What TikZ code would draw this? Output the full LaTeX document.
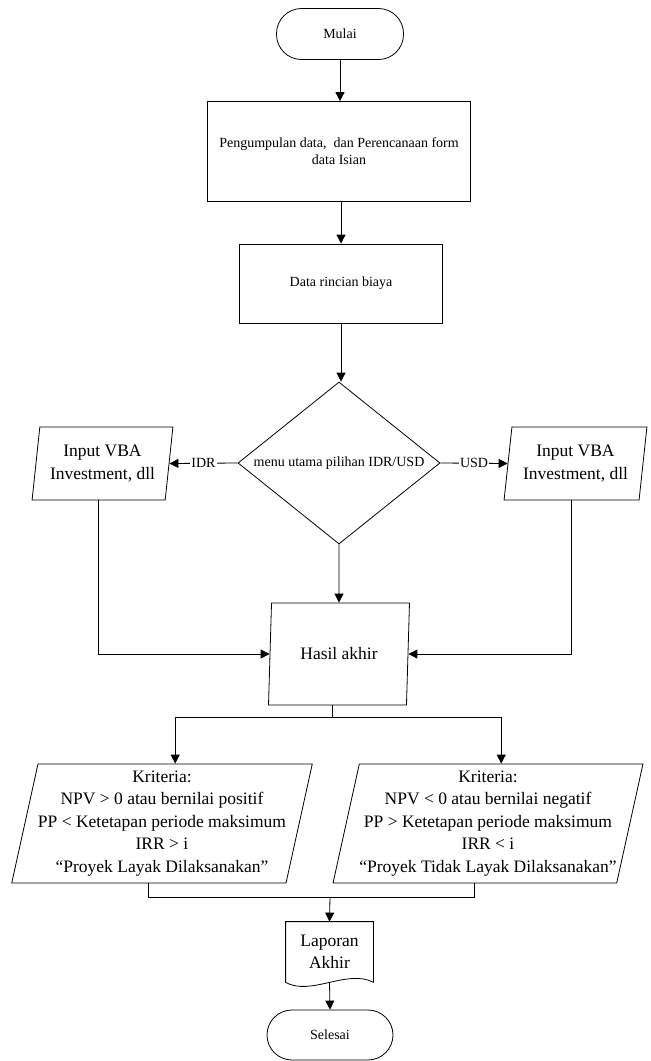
\documentclass[tikz,border=0pt]{standalone}
\usepackage{fontspec}
\setmainfont{Liberation Serif}
\usetikzlibrary{shapes.geometric,arrows.meta,calc}
\tikzset{
  kecil/.style={font=\fontsize{14}{17}\selectfont},
  besar/.style={font=\fontsize{17.5}{22.5}\selectfont},
  terminal/.style={draw,rounded corners=25pt,minimum width=127pt,minimum height=51pt,kecil},
  proses/.style={draw,rectangle,kecil,align=center},
  io/.style={draw,trapezium,trapezium stretches=true,inner sep=0pt,align=center,besar},
}
% tengah sisi bawah / atas jajar genjang
\newcommand{\bawah}[1]{($(#1.bottom left corner)!0.5!(#1.bottom right corner)$)}
\newcommand{\atas}[1]{($(#1.top left corner)!0.5!(#1.top right corner)$)}
\begin{document}
\begin{tikzpicture}[x=1pt,y=-1pt,>={Triangle[length=9pt,width=9pt]},line width=0.8pt]
   \useasboundingbox (0,0) rectangle (651,1061);

                \node[terminal] (mulai) at (340,34) {Mulai}; %mulai
                \node[proses,minimum width=263pt,minimum height=100pt] (kumpul) at (339,151.5) {Pengumpulan data,\ \ dan Perencanaan form\\data Isian}; %kotak 1
                \node[proses,minimum width=203pt,minimum height=79pt] (rincian) at (341,283.5) {Data rincian biaya}; %kotak 2
                \node[draw,diamond,minimum width=202pt,minimum height=162pt,inner sep=0pt,
                      label={[kecil]center:menu utama pilihan IDR/USD}] (menu) at (339,463) {}; %pilihan
                \node[io,minimum width=141pt,minimum height=73pt,trapezium left angle=80,trapezium right angle=100] (inL) at (102.5,463.5) {Input VBA\\Investment, dll}; %IDR
                \node[io,minimum width=143pt,minimum height=73pt,trapezium left angle=80,trapezium right angle=100] (inR) at (575.5,463.5) {Input VBA\\Investment, dll}; %USD
                \node[io,minimum width=142pt,minimum height=102pt,trapezium left angle=82,trapezium right angle=98] (hasil) at (339,654) {Hasil akhir}; %hasil
                \node[io,minimum width=298pt,minimum height=119pt,trapezium left angle=76,trapezium right angle=104] (critL) at (162,823.5)
                     {Kriteria:\\NPV > 0 atau bernilai positif\\PP < Ketetapan periode maksimum\\IRR > i\\“Proyek Layak Dilaksanakan”}; %layak
                \node[io,minimum width=298pt,minimum height=119pt,trapezium left angle=76,trapezium right angle=104] (critR) at (488,823.5)
                     {Kriteria:\\NPV < 0 atau bernilai negatif\\PP > Ketetapan periode maksimum\\IRR < i\\“Proyek Tidak Layak Dilaksanakan”}; %tidak layak
                \node[besar,align=center,minimum width=87pt,minimum height=60pt,inner sep=0pt] (lap) at (329.5,952) {Laporan\\Akhir}; %laporan
                \node[terminal,minimum width=126pt,minimum height=50pt] (selesai) at (330,1035) {Selesai}; %selesai
                \coordinate (cabang) at (332,717); %titik cabang
                \coordinate (gabung) at (330,897); %titik gabung

                \draw (lap.south east) -- (lap.north east) -- (lap.north west) -- (lap.south west)
                      .. controls +(25,14) and +(-25,-14) .. (lap.south east);

                \draw[->] (mulai.south) -- (mulai.south |- kumpul.north);
                \draw[->] (kumpul.south -| rincian.north) -- (rincian.north);
                \draw[->] (rincian.south) -- (rincian.south |- menu.north);
                \draw[->] (menu.west) -- node[kecil,fill=white,inner sep=1pt]{IDR} (inL.east);
                \draw[->] (menu.east) -- node[kecil,fill=white,inner sep=1pt]{USD} (inR.west);
                \draw[->] (menu.south) -- (hasil.north);
                \draw[->] \bawah{inL} |- (hasil.west);
                \draw[->] \bawah{inR} |- (hasil.east);
                \draw (cabang |- hasil.south) -- (cabang);
                \foreach \P in {critL,critR} \draw[->] (cabang) -| \atas{\P};
                \draw \bawah{critL} |- (gabung) -| \bawah{critR};
                \draw[->] (gabung) -- (lap.north);
                \draw[->] (lap.south) -- (selesai.north);

\end{tikzpicture}
\end{document}
